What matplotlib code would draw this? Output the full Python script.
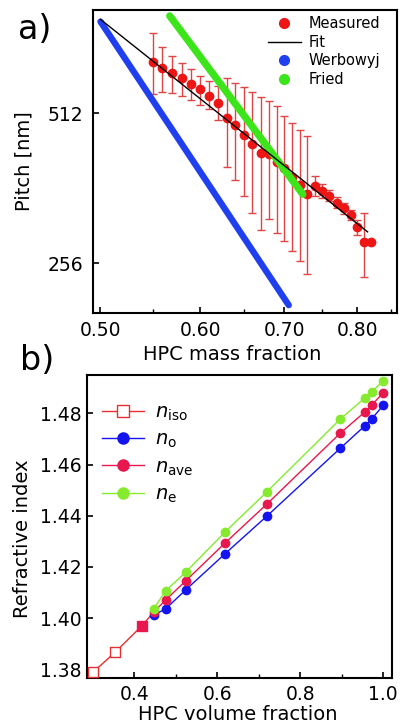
import matplotlib
matplotlib.use('Agg')
import matplotlib.pyplot as plt
from matplotlib.lines import Line2D
from matplotlib.ticker import FixedLocator, NullFormatter

# ---- panel a: pitch vs HPC mass fraction ----
mass_frac = [0.55, 0.56, 0.57, 0.58, 0.59, 0.60, 0.61, 0.62, 0.63, 0.64,
             0.65, 0.66, 0.67, 0.68, 0.69, 0.70, 0.71, 0.72, 0.73, 0.74,
             0.75, 0.76, 0.77, 0.78, 0.79, 0.80, 0.81, 0.82]
pitch = [650, 631, 616, 602, 586, 572, 555, 536, 501, 484,
         463, 444, 426, 425, 409, 397, 382, 368, 352, 366,
         358, 349, 339, 330, 320, 303, 282, 282]
pitch_hi = [742, 697, 667, 647, 627, 608, 593, 582, 604, 588,
            577, 566, 553, 543, 530, 506, 490, 475, 461, 384,
            369, 359, 348, 338, 328, 313, 323, 282]
pitch_lo = [560, 566, 562, 555, 544, 532, 522, 496, 399, 376,
            350, 323, 299, 314, 295, 284, 271, 259, 244, 349,
            346, 341, 331, 321, 312, 292, 240, 282]

fit_x = [0.50, 0.815]
fit_p = [790, 296]
werbowyj_x = [0.50, 0.7055]
werbowyj_p = [782, 211]
fried_x = [0.5675, 0.724]
fried_p = [803, 352]

# ---- panel b: refractive index vs HPC volume fraction ----
iso_x = [0.302, 0.354, 0.418]
n_iso = [1.379, 1.3866, 1.3969]
vol_frac = [0.447, 0.476, 0.524, 0.618, 0.720, 0.896, 0.956, 0.972, 1.0]
n_o = [1.4012, 1.4036, 1.4110, 1.4250, 1.4399, 1.4663, 1.4752, 1.4778, 1.4832]
n_ave = [1.4023, 1.4071, 1.4145, 1.4292, 1.4446, 1.4722, 1.4806, 1.4832, 1.4881]
n_e = [1.4036, 1.4107, 1.4179, 1.4335, 1.4494, 1.4777, 1.4861, 1.4884, 1.4927]

c_red = '#ee1515'
c_err = '#e04545'
c_blue = '#2040f0'
c_green = '#3be51a'
c_o = '#1414f0'
c_ave = '#e8174e'
c_e = '#86ea2e'
c_iso = '#e63030'

fig = plt.figure(figsize=(4, 7.26), dpi=100)
axa = fig.add_axes([0.2325, 0.5689, 0.76, 0.4173])
axb = fig.add_axes([0.218, 0.0665, 0.761, 0.417])

for ax in (axa, axb):
    for s in ax.spines.values():
        s.set_linewidth(1.5)
    ax.tick_params(direction='in', length=4, width=1.2, labelsize=13.5)
    ax.tick_params(which='minor', direction='in', length=3, width=1.0)

# panel a
lo = [p - l for p, l in zip(pitch, pitch_lo)]
hi = [h - p for p, h in zip(pitch, pitch_hi)]
axa.errorbar(mass_frac, pitch, yerr=[lo, hi], fmt='none', ecolor=c_err,
             elinewidth=1.0, capsize=3, capthick=1.0, zorder=2)
axa.plot(mass_frac, pitch, 'o', color=c_red, ms=6, zorder=3)
axa.plot(werbowyj_x, werbowyj_p, '-', color=c_blue, lw=4.6,
         solid_capstyle='round', zorder=3)
axa.plot(fried_x, fried_p, '-', color=c_green, lw=5.2,
         solid_capstyle='round', zorder=4)
axa.plot(fit_x, fit_p, '-', color='black', lw=1.0, zorder=5)

axa.set_xscale('log')
axa.set_yscale('log', base=2)
axa.set_xlim(0.4932, 0.860)
axa.set_ylim(203.5, 825)
axa.xaxis.set_major_locator(FixedLocator([0.5, 0.6, 0.7, 0.8]))
axa.xaxis.set_minor_locator(FixedLocator([0.55, 0.65, 0.75, 0.85]))
axa.xaxis.set_minor_formatter(NullFormatter())
axa.set_xticklabels(['0.50', '0.60', '0.70', '0.80'])
axa.yaxis.set_major_locator(FixedLocator([256, 512]))
axa.yaxis.set_minor_locator(FixedLocator([]))
axa.set_yticklabels(['256', '512'])
axa.tick_params(axis='x', pad=6)
axa.tick_params(axis='y', pad=7)
axa.set_xlabel('HPC mass fraction', fontsize=14)
axa.set_ylabel('Pitch [nm]', fontsize=14)
axa.xaxis.set_label_coords(0.457, -0.106)
axa.yaxis.set_label_coords(-0.197, 0.5)

ha = [Line2D([], [], ls='none', marker='o', color=c_red, ms=7),
      Line2D([], [], color='black', lw=1.0),
      Line2D([], [], ls='none', marker='o', color=c_blue, ms=7),
      Line2D([], [], ls='none', marker='o', color=c_green, ms=7)]
axa.legend(ha, ['Measured', 'Fit', 'Werbowyj', 'Fried'], loc='upper left',
           bbox_to_anchor=(268 / 400, 1 - 16 / 726), bbox_transform=fig.transFigure,
           frameon=False, fontsize=10.5, borderpad=0, borderaxespad=0,
           handlelength=2.25, handletextpad=0.55, labelspacing=0.25)

# panel b
axb.plot(iso_x + [vol_frac[0]], n_iso + [n_ave[0]], '-', color=c_iso, lw=1.0, zorder=2)
axb.plot(iso_x[:2], n_iso[:2], 's', mfc='white', mec=c_iso, mew=1.0, ms=6.5, zorder=3)
axb.plot(iso_x[2:], n_iso[2:], 's', color=c_ave, ms=6.5, zorder=3)
axb.plot(vol_frac, n_o, '-o', color=c_o, lw=1.0, ms=6, zorder=3)
axb.plot(vol_frac, n_ave, '-o', color=c_ave, lw=1.0, ms=6, zorder=4)
axb.plot(vol_frac, n_e, '-o', color=c_e, lw=1.0, ms=6, zorder=5)

axb.set_xlim(0.287, 1.02)
axb.set_ylim(1.3767, 1.495)
axb.xaxis.set_major_locator(FixedLocator([0.4, 0.6, 0.8, 1.0]))
axb.xaxis.set_minor_locator(FixedLocator([0.3, 0.5, 0.7, 0.9]))
axb.xaxis.set_minor_formatter(NullFormatter())
axb.set_xticklabels(['0.4', '0.6', '0.8', '1.0'])
axb.yaxis.set_major_locator(FixedLocator([1.38, 1.40, 1.42, 1.44, 1.46, 1.48]))
axb.set_yticklabels(['1.38', '1.40', '1.42', '1.44', '1.46', '1.48'])
axb.tick_params(axis='x', pad=5)
axb.tick_params(axis='y', pad=4)
axb.set_xlabel('HPC volume fraction', fontsize=14)
axb.set_ylabel('Refractive index', fontsize=14)
axb.xaxis.set_label_coords(0.495, -0.09)
axb.yaxis.set_label_coords(-0.182, 0.46)

hb = [Line2D([], [], color=c_iso, lw=1.0, marker='s', mfc='white', mec=c_iso, ms=8),
      Line2D([], [], color=c_o, lw=1.0, marker='o', ms=8),
      Line2D([], [], color=c_ave, lw=1.0, marker='o', ms=8),
      Line2D([], [], color=c_e, lw=1.0, marker='o', ms=8)]
axb.legend(hb, [r'$n_{\rm iso}$', r'$n_{\rm o}$', r'$n_{\rm ave}$', r'$n_{\rm e}$'],
           loc='upper left', bbox_to_anchor=(101.7 / 400, 1 - 403 / 726),
           bbox_transform=fig.transFigure, frameon=False, fontsize=14,
           borderpad=0, borderaxespad=0, handlelength=2.15,
           handletextpad=0.6, labelspacing=0.35)

fig.text(18 / 400, 1 - 38.6 / 726, 'a)', fontsize=24, va='baseline', ha='left')
fig.text(20 / 400, 1 - 370 / 726, 'b)', fontsize=24, va='baseline', ha='left')

fig.savefig('out.png', dpi=100)
